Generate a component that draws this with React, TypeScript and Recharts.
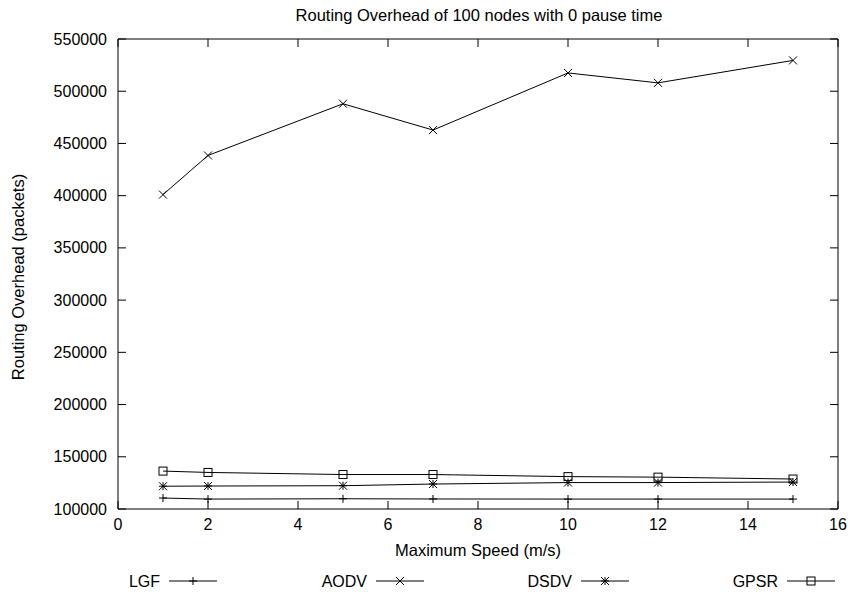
import React from 'react';
import { LineChart, Line, XAxis, YAxis } from 'recharts';

const speeds = [1, 2, 5, 7, 10, 12, 15];
const lgfValues = [110500, 109500, 109800, 109600, 109500, 109500, 109500];
const aodvValues = [401000, 438500, 488000, 462800, 517500, 508000, 529500];
const dsdvValues = [121800, 122000, 122300, 123900, 125300, 125300, 125800];
const gpsrValues = [136300, 135000, 133000, 133000, 131000, 130500, 128700];

const xTicks = [0, 2, 4, 6, 8, 10, 12, 14, 16];
const yTicks = [100000, 150000, 200000, 250000, 300000, 350000, 400000, 450000, 500000, 550000];

const seriesNames = ['LGF', 'AODV', 'DSDV', 'GPSR'];
const seriesMarkers = ['plus', 'cross', 'star', 'square'];

const title = 'Routing Overhead of 100 nodes with 0 pause time';
const xLabel = 'Maximum Speed (m/s)';
const yLabel = 'Routing Overhead (packets)';

const data = speeds.map((s, i) => ({
  speed: s,
  LGF: lgfValues[i],
  AODV: aodvValues[i],
  DSDV: dsdvValues[i],
  GPSR: gpsrValues[i],
}));

const FONT = '"Liberation Sans", Arial, Helvetica, sans-serif';
const FS = 16;
const FS_LABEL = 16.5;
const TICK = 8;
const TS = 1;

function Marker({ type, cx, cy, s = 4 }: { type: string; cx: number; cy: number; s?: number }) {
  const st = { stroke: '#000', strokeWidth: 1, fill: 'none' };
  if (type === 'plus') {
    return (
      <g>
        <line x1={cx - s} x2={cx + s} y1={cy} y2={cy} {...st} />
        <line x1={cx} x2={cx} y1={cy - s} y2={cy + s} {...st} />
      </g>
    );
  }
  if (type === 'cross') {
    return (
      <g>
        <line x1={cx - s} x2={cx + s} y1={cy - s} y2={cy + s} {...st} />
        <line x1={cx - s} x2={cx + s} y1={cy + s} y2={cy - s} {...st} />
      </g>
    );
  }
  if (type === 'star') {
    return (
      <g>
        <line x1={cx - s} x2={cx + s} y1={cy - s} y2={cy + s} {...st} />
        <line x1={cx - s} x2={cx + s} y1={cy + s} y2={cy - s} {...st} />
        <line x1={cx} x2={cx} y1={cy - s} y2={cy + s} {...st} />
        <line x1={cx - s} x2={cx + s} y1={cy} y2={cy} {...st} />
      </g>
    );
  }
  return <rect x={cx - s} y={cy - s} width={2 * s} height={2 * s} {...st} />;
}

const BottomTick = (props: any) => {
  const { x, payload } = props;
  const y = props.y - TS;
  return (
    <g>
      <line x1={x} x2={x} y1={y} y2={y - TICK} stroke="#000" />
      <text x={x} y={y + 21} textAnchor="middle" fontFamily={FONT} fontSize={FS} fill="#000">
        {payload.value}
      </text>
    </g>
  );
};
const TopTick = (props: any) => {
  const { x } = props;
  const y = props.y + TS;
  return <line x1={x} x2={x} y1={y} y2={y + TICK} stroke="#000" />;
};
const LeftTick = (props: any) => {
  const { y, payload } = props;
  const x = props.x + TS;
  return (
    <g>
      <line x1={x} x2={x + TICK} y1={y} y2={y} stroke="#000" />
      <text x={x - 11} y={y + 5.5} textAnchor="end" fontFamily={FONT} fontSize={FS} fill="#000">
        {payload.value}
      </text>
    </g>
  );
};
const RightTick = (props: any) => {
  const { y } = props;
  const x = props.x - TS;
  return <line x1={x} x2={x - TICK} y1={y} y2={y} stroke="#000" />;
};

const legendLineStart = [169, 376, 581, 787];
const legendLineLen = 48;
const legendY = 581;

export default function App() {
  return (
    <div style={{ position: 'absolute', left: 0, top: 0, width: 851, height: 599, background: '#fff' }}>
      <LineChart
        width={851}
        height={599}
        data={data}
        margin={{ top: 38, right: 12, bottom: 0, left: 0 }}
      >
        <XAxis
          dataKey="speed"
          type="number"
          domain={[0, 16]}
          ticks={xTicks}
          interval={0}
          height={90}
          tickSize={TS}
          tickMargin={0}
          tickLine={false}
          axisLine={{ stroke: '#000' }}
          tick={<BottomTick />}
          allowDataOverflow
        />
        <XAxis
          xAxisId="top"
          orientation="top"
          type="number"
          dataKey="speed"
          domain={[0, 16]}
          ticks={xTicks}
          interval={0}
          height={1}
          tickSize={TS}
          tickMargin={0}
          tickLine={false}
          axisLine={{ stroke: '#000' }}
          tick={<TopTick />}
          allowDataOverflow
        />
        <YAxis
          type="number"
          domain={[100000, 550000]}
          ticks={yTicks}
          interval={0}
          width={118}
          tickSize={TS}
          tickMargin={0}
          tickLine={false}
          axisLine={{ stroke: '#000' }}
          tick={<LeftTick />}
          allowDataOverflow
        />
        <YAxis
          yAxisId="right"
          orientation="right"
          type="number"
          domain={[100000, 550000]}
          ticks={yTicks}
          interval={0}
          width={1}
          tickSize={TS}
          tickMargin={0}
          tickLine={false}
          axisLine={{ stroke: '#000' }}
          tick={<RightTick />}
          allowDataOverflow
        />
        {seriesNames.map((name, i) => (
          <Line
            key={name}
            dataKey={name}
            stroke="#000"
            strokeWidth={1}
            isAnimationActive={false}
            dot={(p: any) => <Marker key={`${name}-${p.index}`} type={seriesMarkers[i]} cx={p.cx} cy={p.cy} />}
            activeDot={false}
          />
        ))}
        <Line
          xAxisId="top"
          yAxisId="right"
          dataKey="GPSR"
          stroke="none"
          dot={false}
          activeDot={false}
          legendType="none"
          isAnimationActive={false}
        />
      </LineChart>
      <svg
        width={851}
        height={599}
        style={{ position: 'absolute', left: 0, top: 0, pointerEvents: 'none' }}
      >
        <text x={479} y={21} textAnchor="middle" fontFamily={FONT} fontSize={FS_LABEL} fill="#000">
          {title}
        </text>
        <text x={478} y={556} textAnchor="middle" fontFamily={FONT} fontSize={FS_LABEL} fill="#000">
          {xLabel}
        </text>
        <text
          x={0}
          y={0}
          transform="translate(24,277) rotate(-90)"
          textAnchor="middle"
          fontFamily={FONT}
          fontSize={FS_LABEL}
          fill="#000"
        >
          {yLabel}
        </text>
        {seriesNames.map((name, i) => {
          const x0 = legendLineStart[i];
          return (
            <g key={name}>
              <text x={x0 - 9} y={legendY + 6} textAnchor="end" fontFamily={FONT} fontSize={FS} fill="#000">
                {name}
              </text>
              <line x1={x0} x2={x0 + legendLineLen} y1={legendY} y2={legendY} stroke="#000" />
              <Marker type={seriesMarkers[i]} cx={x0 + legendLineLen / 2} cy={legendY} />
            </g>
          );
        })}
      </svg>
    </div>
  );
}
